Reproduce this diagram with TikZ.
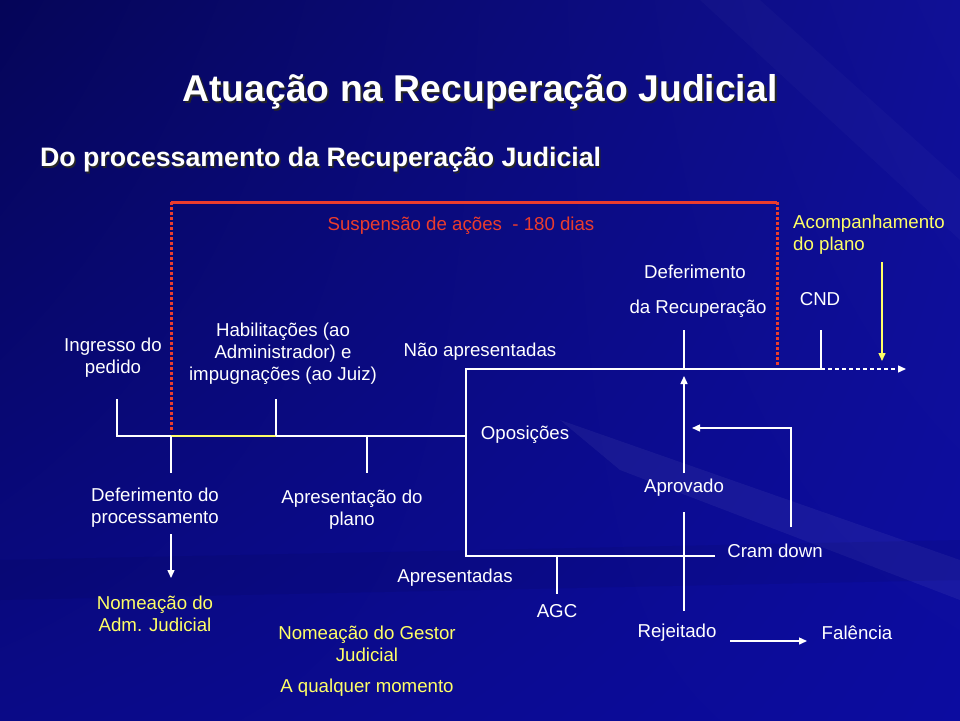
\documentclass[tikz,border=0pt]{standalone}
\usepackage{fontspec}
\setmainfont{Liberation Sans}
\usetikzlibrary{arrows.meta,shadings}
\definecolor{bgA}{RGB}{5,5,88}
\definecolor{bgB}{RGB}{16,16,150}
\definecolor{bgC}{RGB}{10,10,135}
\definecolor{bgD}{RGB}{12,12,160}
\definecolor{redl}{RGB}{235,60,45}
\definecolor{yel}{RGB}{255,255,102}
\begin{document}
\begin{tikzpicture}[x=1pt,y=-1pt,
  lbl/.style={text=white,font=\fontsize{18.67}{22}\selectfont,align=center,inner sep=0pt},
  ylbl/.style={lbl,text=yel},
  rlbl/.style={lbl,text=redl},
  wl/.style={draw=white,line width=1.4pt},
  yl/.style={draw=yel,line width=1.4pt},
  redframe/.style={draw=redl,line width=3pt},
  reddots/.style={draw=redl,line width=3pt,dash pattern=on 2.5pt off 2.5pt},
  dashline/.style={dash pattern=on 4pt off 3pt},
  tip/.style={-{Triangle[length=8pt,width=7pt]}}]
% background
\useasboundingbox (0,0) rectangle (960,720);
\shade[upper left=bgA,upper right=bgB,lower left=bgC,lower right=bgD] (0,0) rectangle (960,720);
\fill[white,opacity=0.05] (560,420) -- (960,560) -- (960,600) -- (620,470) -- cycle;
\fill[white,opacity=0.025] (760,0) -- (960,180) -- (960,240) -- (700,0) -- cycle;
\fill[black,opacity=0.06] (0,560) -- (960,540) -- (960,580) -- (0,600) -- cycle;
% titles
\node[text=black!85,font=\fontsize{37.3}{42}\selectfont\bfseries] (titleS) at (482,94) {Atuação na Recuperação Judicial};
\node[text=white,font=\fontsize{37.3}{42}\selectfont\bfseries] (title) at (480,92) {Atuação na Recuperação Judicial};
\node[text=black!85,font=\fontsize{26.7}{30}\selectfont\bfseries,anchor=west,inner sep=0pt] (subS) at (41.5,161.5) {Do processamento da Recuperação Judicial};
\node[text=white,font=\fontsize{26.7}{30}\selectfont\bfseries,anchor=west,inner sep=0pt] (sub) at (40,160) {Do processamento da Recuperação Judicial};
% red frame
\coordinate (rTL) at (171,202);
\coordinate (rTR) at (777,202);
\coordinate (rBL) at (171,432);
\coordinate (rBR) at (777,365);
\draw[redframe] (rTL) -- (rTR);
\draw[reddots] (rTL) -- (rBL);
\draw[reddots] (rTR) -- (rBR);
\node[rlbl] (susp) at (461,226) {Suspensão de ações \ - 180 dias};
% labels
\node[lbl] (ingresso) at (113,358) {Ingresso do\\pedido};
\node[lbl] (habil) at (283,354) {Habilitações (ao\\Administrador) e\\impugnações (ao Juiz)};
\node[lbl] (naoapr) at (480,352) {Não apresentadas};
\node[lbl] (defrec1) at (695,272) {Deferimento};
\node[lbl] (defrec2) at (698,309) {da Recuperação};
\node[lbl] (cnd) at (820,299) {CND};
\node[ylbl,align=left,anchor=west] (acomp) at (793,235) {Acompanhamento\\do plano};
\node[lbl] (defproc) at (155,508) {Deferimento do\\processamento};
\node[lbl] (aprplano) at (352,510) {Apresentação do\\plano};
\node[ylbl] (nomadm) at (155,614) {Nomeação do\\Adm. Judicial};
\node[ylbl] (nomgest) at (367,644) {Nomeação do Gestor\\Judicial};
\node[ylbl] (qualquer) at (367,688) {A qualquer momento};
\node[lbl] (oposicoes) at (525,435) {Oposições};
\node[lbl] (aprovado) at (684,488) {Aprovado};
\node[lbl] (cram) at (775,551) {Cram down};
\node[lbl] (apresentadas) at (455,578) {Apresentadas};
\node[lbl] (agc) at (557,611) {AGC};
\node[lbl] (rejeitado) at (677,633) {Rejeitado};
\node[lbl] (falencia) at (857,633) {Falência};
% junction coordinates
\coordinate (ingB) at (117,399);
\coordinate (ingJ) at (117,436);
\coordinate (habB) at (276,399);
\coordinate (habJ) at (276,436);
\coordinate (defJ) at (171,436);
\coordinate (defT) at (171,473);
\coordinate (aprJ) at (367,436);
\coordinate (aprT) at (367,473);
\coordinate (defB) at (171,534);
\coordinate (nomT) at (171,578);
\coordinate (boxM) at (466,436);
\coordinate (boxTL) at (466,369);
\coordinate (boxBL) at (466,556);
\coordinate (boxBR) at (715,556);
\coordinate (recB) at (684,330);
\coordinate (recJ) at (684,369);
\coordinate (cndB) at (821,330);
\coordinate (cndJ) at (821,369);
\coordinate (dashE) at (906,369);
\coordinate (acB) at (882,262);
\coordinate (acT) at (882,361);
\coordinate (aprovT) at (684,473);
\coordinate (aprovUp) at (684,376);
\coordinate (aprovB) at (684,512);
\coordinate (rejT) at (684,611);
\coordinate (cramT) at (791,527);
\coordinate (cramC) at (791,428);
\coordinate (cramE) at (692,428);
\coordinate (agcJ) at (557,556);
\coordinate (agcT) at (557,594);
\coordinate (rejR) at (730,641);
\coordinate (falL) at (807,641);
% connectors
\draw[wl] (ingB) -- (ingJ) -- (boxM);
\draw[yl] (defJ) -- (habJ);
\draw[wl] (habB) -- (habJ);
\draw[wl] (defJ) -- (defT);
\draw[wl] (aprJ) -- (aprT);
\draw[wl,tip] (defB) -- (nomT);
\draw[wl] (boxM) -- (boxTL) -- (cndJ);
\draw[wl] (boxM) -- (boxBL) -- (boxBR);
\draw[wl] (recB) -- (recJ);
\draw[wl] (cndB) -- (cndJ);
\draw[wl,dashline,tip] (cndJ) -- (dashE);
\draw[yl,tip] (acB) -- (acT);
\draw[wl,tip] (aprovT) -- (aprovUp);
\draw[wl] (aprovB) -- (rejT);
\draw[wl,tip] (cramT) -- (cramC) -- (cramE);
\draw[wl] (agcJ) -- (agcT);
\draw[wl,tip] (rejR) -- (falL);
\end{tikzpicture}
\end{document}
